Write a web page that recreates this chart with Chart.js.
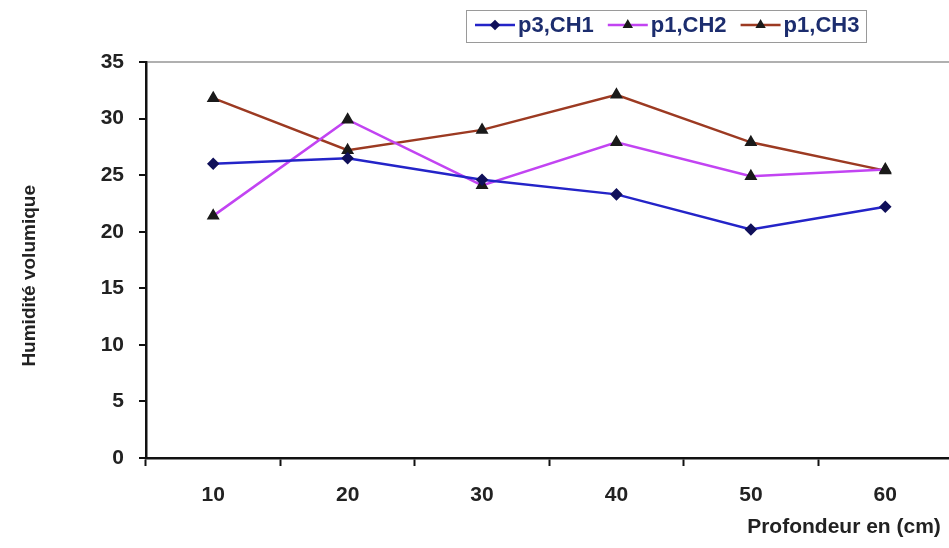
<!DOCTYPE html>
<html>
<head>
<meta charset="utf-8">
<script src="https://cdn.jsdelivr.net/npm/chart.js@4.4.1/dist/chart.umd.min.js"></script>
<style>
  html, body { margin: 0; padding: 0; background: #fff; overflow: hidden; }
  #wrap { width: 949px; height: 548px; overflow: hidden; }
</style>
</head>
<body>
<div id="wrap"><canvas id="humChart" width="960" height="548"></canvas></div>
<script>
const depths = ["10", "20", "30", "40", "50", "60"];
const p3CH1 = [26.0, 26.5, 24.6, 23.3, 20.2, 22.2];
const p1CH2 = [21.4, 29.9, 24.1, 27.9, 24.9, 25.5];
const p1CH3 = [31.8, 27.2, 29.0, 32.1, 27.9, 25.4];
const seriesNames = ["p3,CH1", "p1,CH2", "p1,CH3"];
const yTicks = [0, 5, 10, 15, 20, 25, 30, 35];

const FONT = "'Liberation Sans', Arial, sans-serif";

// legend drawn in a box above the plot, like the Excel original
const boxLegend = {
  id: "boxLegend",
  afterDraw(chart) {
    const ctx = chart.ctx;
    ctx.save();
    ctx.strokeStyle = "#9a9a9a";
    ctx.lineWidth = 1;
    ctx.strokeRect(466.5, 10.5, 400, 32);
    ctx.font = "bold 22px " + FONT;
    ctx.textBaseline = "middle";
    let x = 475;
    const y = 25;
    chart.data.datasets.forEach(ds => {
      ctx.strokeStyle = ds.borderColor;
      ctx.lineWidth = 2.5;
      ctx.beginPath();
      ctx.moveTo(x, y);
      ctx.lineTo(x + 40, y);
      ctx.stroke();
      ctx.fillStyle = ds.pointBackgroundColor;
      ctx.strokeStyle = ds.pointBorderColor;
      Chart.helpers.drawPoint(ctx, { pointStyle: ds.pointStyle, radius: 3.5, rotation: 0, borderWidth: 1 }, x + 20, y);
      ctx.fillStyle = "#1c2d6e";
      ctx.fillText(ds.label, x + 43, y + 1);
      x += 43 + ctx.measureText(ds.label).width + 14;
    });
    ctx.restore();
  }
};

new Chart(document.getElementById("humChart"), {
  type: "line",
  data: {
    labels: depths,
    datasets: [
      {
        label: seriesNames[0],
        data: p3CH1,
        borderColor: "#2424c8",
        borderWidth: 2.5,
        pointStyle: "rectRot",
        pointRadius: 4.5,
        pointBackgroundColor: "#10105a",
        pointBorderColor: "#10105a",
        tension: 0
      },
      {
        label: seriesNames[1],
        data: p1CH2,
        borderColor: "#c244f2",
        borderWidth: 2.5,
        pointStyle: "triangle",
        pointRadius: 5,
        pointBackgroundColor: "#1a1a1a",
        pointBorderColor: "#1a1a1a",
        tension: 0
      },
      {
        label: seriesNames[2],
        data: p1CH3,
        borderColor: "#9c3a22",
        borderWidth: 2.5,
        pointStyle: "triangle",
        pointRadius: 5,
        pointBackgroundColor: "#1a1a1a",
        pointBorderColor: "#1a1a1a",
        tension: 0
      }
    ]
  },
  options: {
    responsive: false,
    animation: false,
    layout: { padding: { top: 62, left: 0, right: 0, bottom: 0 } },
    plugins: {
      legend: { display: false },
      tooltip: { enabled: false }
    },
    scales: {
      x: {
        offset: true,
        afterFit: s => { s.height = 90; },
        grid: {
          offset: true,
          color: "transparent",
          tickColor: "#111",
          tickLength: 8,
          tickWidth: 2
        },
        border: { color: "#111", width: 2.5 },
        ticks: {
          padding: 17,
          color: "#222",
          font: { family: FONT, size: 21, weight: "bold" }
        },
        title: {
          display: true,
          text: "Profondeur en (cm)  ",
          align: "end",
          color: "#222",
          font: { family: FONT, size: 21, weight: "bold" },
          padding: { top: 0, bottom: 8 }
        }
      },
      y: {
        min: 0,
        max: 35,
        afterFit: s => { s.width = 146; },
        afterBuildTicks: s => { s.ticks = yTicks.map(v => ({ value: v })); },
        grid: {
          color: ctx => ctx.tick && ctx.tick.value === 35 ? "#b0b0b0" : "transparent",
          lineWidth: 2,
          tickColor: "#111",
          tickLength: 7,
          tickWidth: 2
        },
        border: { color: "#111", width: 2.5 },
        ticks: {
          padding: 15,
          color: "#222",
          font: { family: FONT, size: 21, weight: "bold" }
        },
        title: {
          display: true,
          text: "Humidité volumique      ",
          color: "#222",
          font: { family: FONT, size: 19, weight: "bold" },
          padding: { top: 18, bottom: 0 }
        }
      }
    }
  },
  plugins: [boxLegend]
});
</script>
</body>
</html>
